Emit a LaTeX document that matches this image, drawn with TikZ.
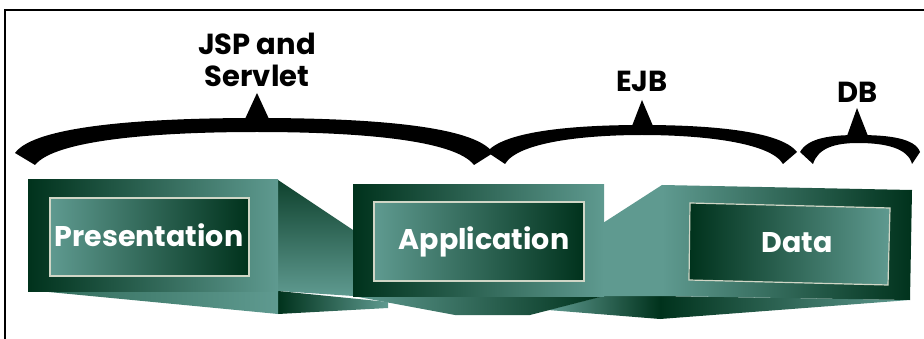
\documentclass[tikz,border=0pt]{standalone}
\usepackage{fontspec}
\setmainfont{Poppins}
\definecolor{deep}{HTML}{00321C}
\definecolor{sea}{HTML}{5F9A90}
\definecolor{moss}{HTML}{2F6A58}
\definecolor{rimc}{HTML}{D0D6C6}
\begin{document}
\begin{tikzpicture}[x=1pt,y=1pt]
\useasboundingbox (0,0) rectangle (924,-339);
\tikzset{
  lbl/.style={font=\fontsize{28.5}{32}\selectfont\bfseries, text=white, inner sep=0pt, anchor=base},
  tag/.style={font=\fontsize{29}{32}\selectfont\bfseries, text=black, inner sep=0pt, anchor=base, align=center},
  rim/.style={draw=rimc, line width=1.2pt},
  brace/.style={fill=black},
}
% frame
\draw[line width=2pt] (5,-339) -- (5,-10) -- (924,-10);

% Data tier (back)
\shade[left color=sea, right color=deep] (548,-310) -- (603,-296) -- (660,-296) -- (660,-319) -- cycle;
\shade[left color=deep, right color=sea] (660,-296) -- (910,-300) -- (660,-319) -- cycle;
\fill[sea] (603,-223) -- (662,-185) -- (662,-296) -- (603,-296) -- cycle;
\shade[left color=sea, right color=deep] (662,-185) -- (912,-190) -- (910,-300) -- (662,-296) -- cycle;
\shadedraw[left color=deep, right color=sea, rim] (690,-203) -- (890,-208) -- (888,-285) -- (689,-280) -- cycle;

% Application tier
\shade[left color=sea, right color=deep] (353,-296) -- (604,-296) -- (530,-315) -- (455,-315) -- cycle;
\shade[top color=deep!85!sea, bottom color=sea] (278,-180) -- (353,-230) -- (353,-296) -- (278,-291) -- cycle;
\shade[left color=deep, right color=sea] (353,-185) rectangle (604,-296);
\shadedraw[left color=sea, right color=deep, rim] (374,-202) rectangle (584,-281);

% Presentation tier
\shade[left color=deep, right color=sea] (278,-291) -- (388,-302) -- (388,-308) -- (278,-314) -- cycle;
\shade[left color=moss, right color=sea] (28,-290) -- (278,-291) -- (278,-314) -- cycle;
\shade[left color=deep, right color=sea] (28,-180) rectangle (278,-291);
\shadedraw[left color=sea, right color=deep, rim] (50,-198) rectangle (249,-276);

% labels
\node[lbl] (pres) at (149,-247) {Presentation};
\node[lbl] (app) at (484,-250) {Application};
\node[lbl] (data) at (797,-253) {Data};

% braces
\fill[brace] (15,-153) .. controls (35,-125) and (150,-118) .. (257,-118) .. controls (364,-118) and (475,-125) .. (493,-153) -- (474,-165) .. controls (455,-140) and (360,-132) .. (257,-132) .. controls (155,-132) and (55,-140) .. (35,-165) -- cycle;
\fill[brace] (245,-119) -- (257,-93) -- (269,-119) -- cycle;
\fill[brace] (487,-152) .. controls (505,-130) and (580,-125) .. (642,-125) .. controls (705,-125) and (780,-130) .. (797,-152) -- (783,-164) .. controls (770,-142) and (700,-135) .. (642,-135) .. controls (585,-135) and (518,-142) .. (505,-164) -- cycle;
\fill[brace] (632,-126) -- (642,-100) -- (653,-126) -- cycle;
\fill[brace] (800,-152) .. controls (808,-138) and (830,-135) .. (858,-135) .. controls (888,-135) and (915,-138) .. (920,-152) -- (912,-164) .. controls (908,-148) and (885,-143) .. (858,-143) .. controls (835,-143) and (818,-148) .. (813,-164) -- cycle;
\fill[brace] (847,-136) -- (857,-108) -- (868,-136) -- cycle;

% brace captions
\node[tag] (web) at (257,-87) {JSP and\\Servlet};
\node[tag] (ejb) at (642,-92) {EJB};
\node[tag] (db) at (858,-103) {DB};
\end{tikzpicture}
\end{document}
